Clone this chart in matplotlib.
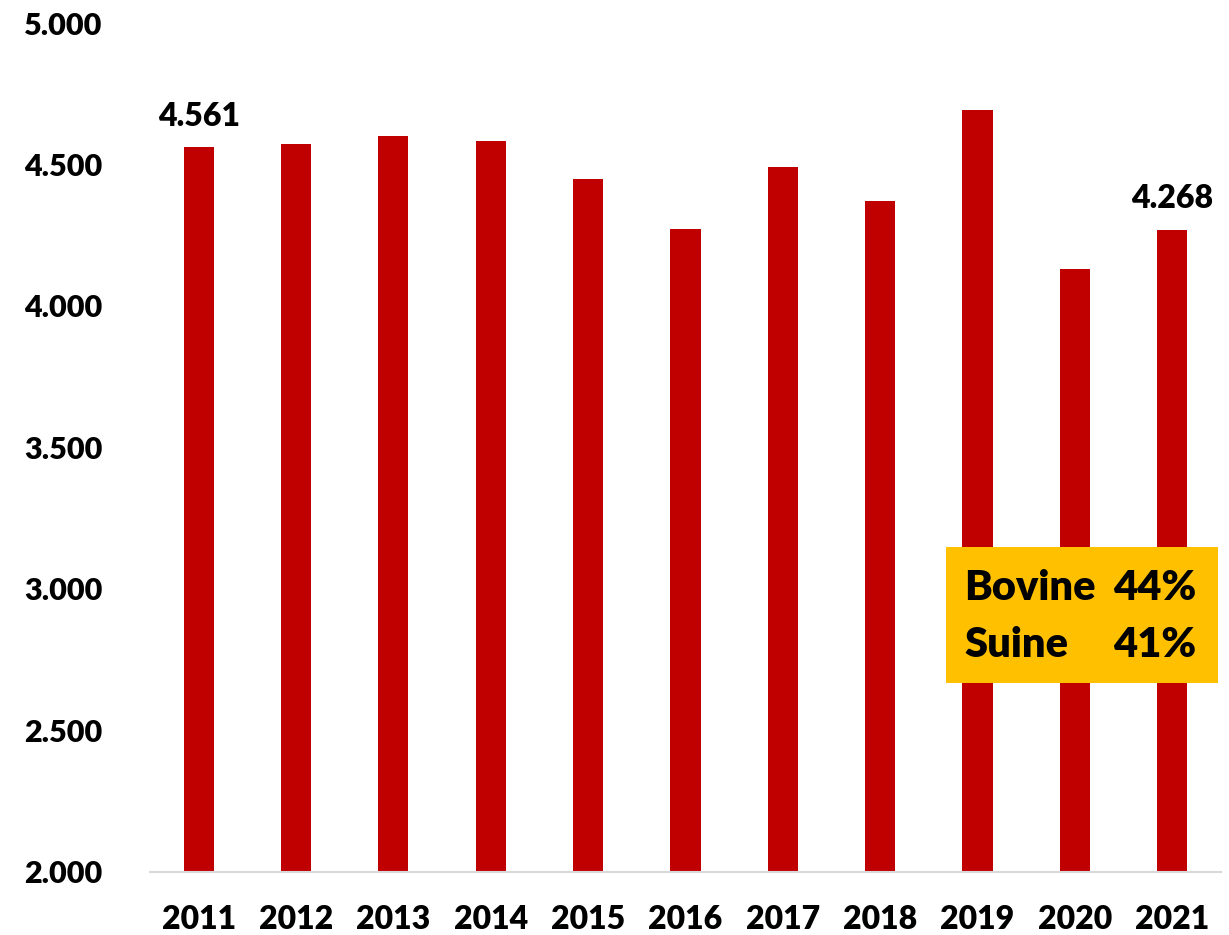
import matplotlib.pyplot as plt
from matplotlib.patches import Rectangle

# dati
anni = ['2011', '2012', '2013', '2014', '2015', '2016', '2017', '2018', '2019', '2020', '2021']
valori = [4561, 4572, 4600, 4583, 4449, 4272, 4491, 4371, 4693, 4131, 4268]
tick_y = [2000, 2500, 3000, 3500, 4000, 4500, 5000]
etichette = {0: '4.561', 10: '4.268'}
box_righe = [('Bovine', '44%'), ('Suine', '41%')]

plt.rcParams['font.family'] = ['Lato', 'DejaVu Sans']
peso = 'heavy'

fig = plt.figure(figsize=(12.29, 9.35), dpi=100)
ax = fig.add_axes([0.122, 0.0674, 0.8715, 0.908])

x = range(len(anni))
ax.bar(x, valori, width=0.31, color='#C00000', zorder=2)

ax.set_xlim(-0.5, len(anni) - 0.5)
ax.set_ylim(2000, 5000)
ax.set_yticks(tick_y)
ax.set_yticklabels([f'{v:,}'.replace(',', '.') for v in tick_y], fontsize=22, fontweight=peso)
ax.set_xticks(list(x))
ax.set_xticklabels(anni, fontsize=23, fontweight=peso)
ax.tick_params(axis='both', length=0)
ax.tick_params(axis='y', pad=34)
ax.tick_params(axis='x', pad=24)
for s in ['top', 'right', 'left']:
    ax.spines[s].set_visible(False)
ax.spines['bottom'].set_color('#D9D9D9')
ax.spines['bottom'].set_linewidth(1.5)

for i, txt in etichette.items():
    ax.annotate(txt, (i, valori[i]), xytext=(0, 12), textcoords='offset points',
                ha='center', va='bottom', fontsize=23, fontweight=peso)

# riquadro giallo
fig.patches.append(Rectangle((946 / 1229, 1 - 683 / 935), 272 / 1229, 136 / 935,
                             transform=fig.transFigure, facecolor='#FFC000',
                             edgecolor='none', zorder=3))
for k, (nome, perc) in enumerate(box_righe):
    yy = 1 - (588 + k * 57) / 935
    fig.text(964 / 1229, yy, nome, ha='left', va='center', fontsize=30,
             fontweight=peso, zorder=4)
    fig.text(1196 / 1229, yy, perc, ha='right', va='center', fontsize=30,
             fontweight=peso, zorder=4)

plt.savefig('out.png', dpi=100)
